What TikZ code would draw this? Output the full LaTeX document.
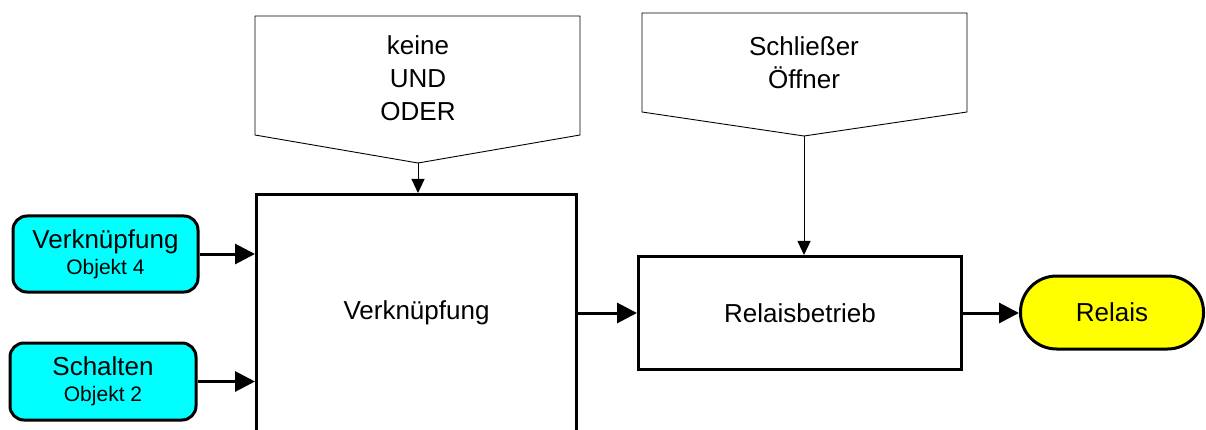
\documentclass[tikz,border=0pt]{standalone}
\usepackage{fontspec}
\setmainfont{Liberation Sans}
\usetikzlibrary{arrows.meta}
\definecolor{boxcyan}{RGB}{0,255,255}
\definecolor{boxyellow}{RGB}{255,255,0}
\begin{document}
\begin{tikzpicture}[x=1pt,y=-1pt,
  bigfont/.style={font=\fontsize{26}{33}\selectfont},
  thickbox/.style={draw,line width=3pt,inner sep=0pt,bigfont},
  objbox/.style={thickbox,fill=boxcyan,rounded corners=14pt,align=center,
    font=\fontsize{21}{26}\selectfont},
  thinshape/.style={draw,line width=0.9pt},
  thickarrow/.style={line width=3pt,-{Triangle[length=20pt,width=20pt]}},
  thinarrow/.style={line width=0.9pt,-{Triangle[length=14pt,width=13pt]}},
  labeltext/.style={bigfont,align=center,inner sep=0pt}]
\useasboundingbox (0,0) rectangle (1206,430);
\clip (0,0) rectangle (1206,430);

% input objects
\node[objbox,minimum width=185pt,minimum height=76pt] (obj4) at (105.5,254)
  {{\fontsize{26}{26}\selectfont Verknüpfung}\\Objekt 4};
\node[objbox,minimum width=186pt,minimum height=77pt] (obj2) at (103,381.5)
  {{\fontsize{26}{26}\selectfont Schalten}\\Objekt 2};

% logic block (extends below the picture)
\node[thickbox,minimum width=320pt,minimum height=300pt] (vk) at (416.5,344.5) {};
\node[labeltext] (vktext) at (416.5,313) {Verknüpfung};

% relay operation
\node[thickbox,minimum width=323pt,minimum height=113pt] (rb) at (800,313) {Relaisbetrieb};

% relay output
\node[thickbox,fill=boxyellow,rounded corners=36pt,minimum width=183pt,minimum height=73pt] (rel) at (1112,312.5) {Relais};

% parameter pentagons
\draw[thinshape] (255,16) -- (580,16) -- (580,135) -- (418,163) -- (255,135) -- cycle;
\coordinate (p1tip) at (418,163);
\node[labeltext,anchor=base] (p1text) at (418,121) {keine\\UND\\ODER};

\draw[thinshape] (642,13) -- (967,13) -- (967,112) -- (804,136) -- (642,112) -- cycle;
\coordinate (p2tip) at (804,136);
\node[labeltext,anchor=base] (p2text) at (804,89) {Schließer\\Öffner};

% connectors
\draw[thickarrow] (obj4.east) -- (obj4.east -| vk.west);
\draw[thickarrow] (obj2.east) -- (obj2.east -| vk.west);
\draw[thickarrow] (rb.west -| vk.east) -- (rb.west);
\draw[thickarrow] (rb.east) -- (rb.east -| rel.west);
\draw[thinarrow] (p1tip) -- (p1tip |- vk.north);
\draw[thinarrow] (p2tip) -- (p2tip |- rb.north);
\end{tikzpicture}
\end{document}
